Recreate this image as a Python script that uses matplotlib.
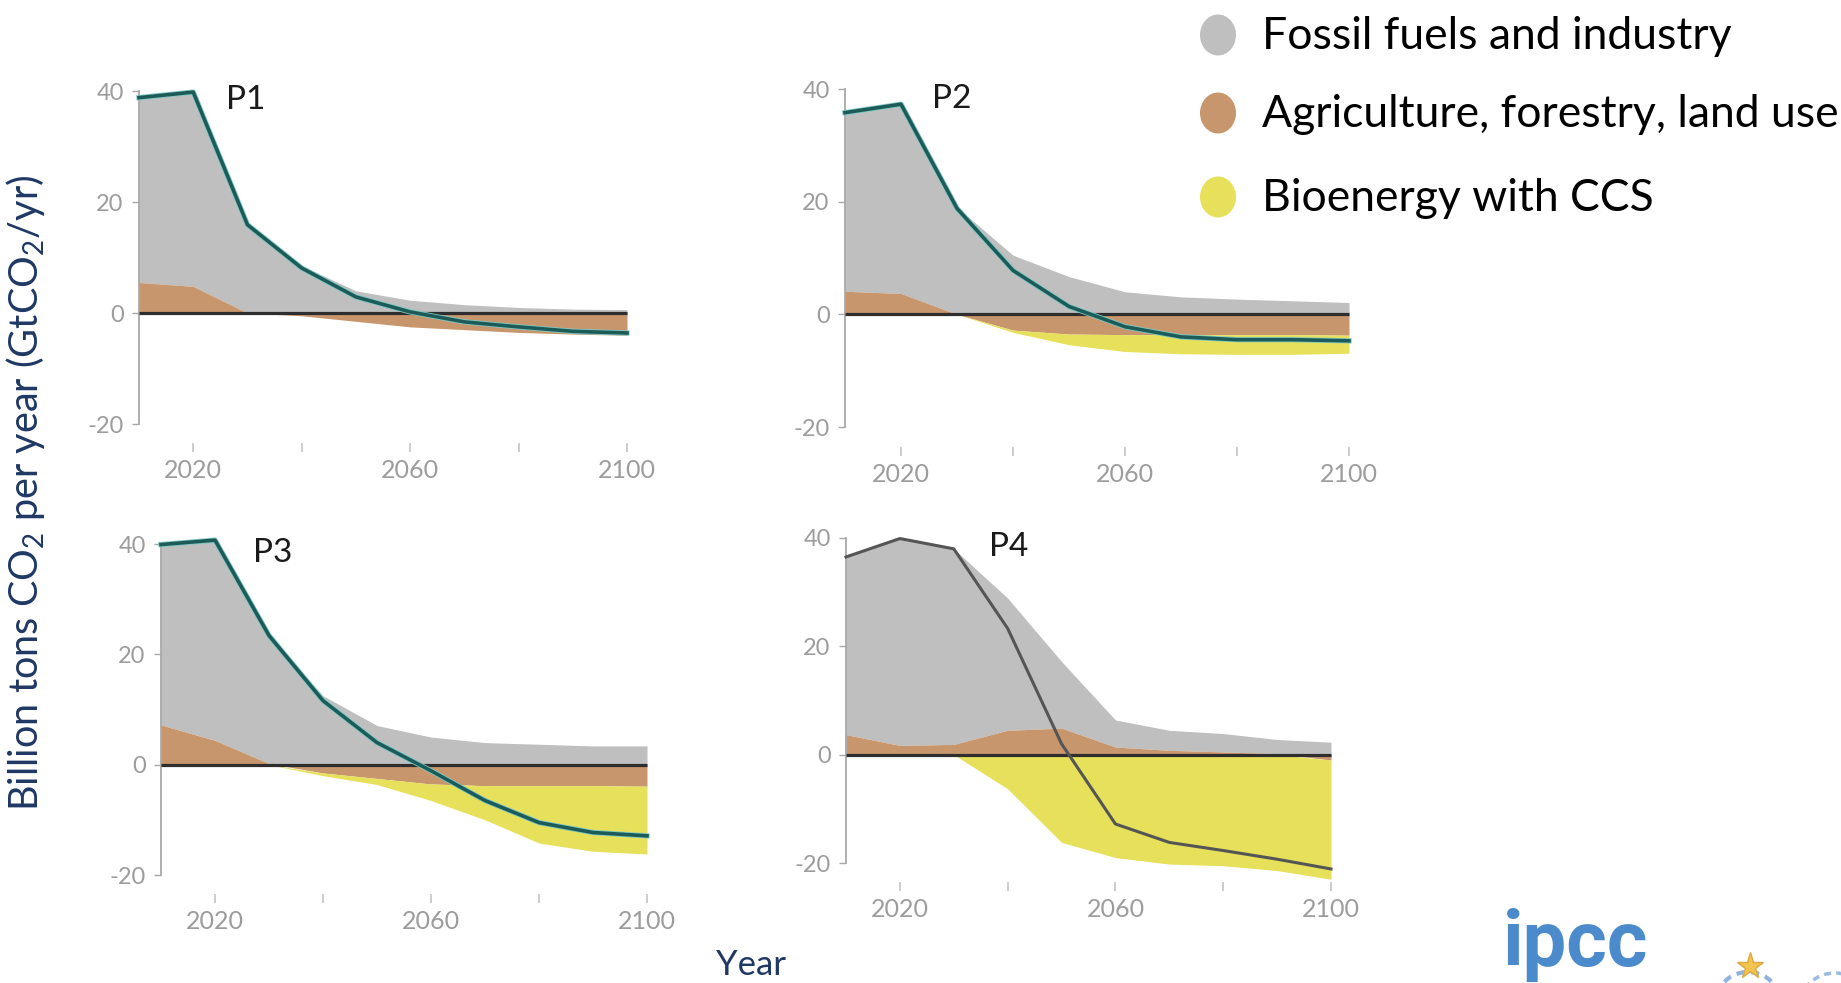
import numpy as np
import matplotlib
matplotlib.use("Agg")
import matplotlib.pyplot as plt
import matplotlib.patheffects as pe
from matplotlib.patches import Ellipse, Arc
from matplotlib.lines import Line2D

plt.rcParams['font.family'] = ['Lato', 'DejaVu Sans']
plt.rcParams['axes.unicode_minus'] = False

# emission components, GtCO2/yr
years = [2010, 2020, 2030, 2040, 2050, 2060, 2070, 2080, 2090, 2100]

p1_fossil = [33.3, 35.0, 16.0, 8.5, 4.0, 2.3, 1.5, 1.0, 0.7, 0.6]
p1_afolu = [5.5, 4.8, 0.0, -0.5, -1.5, -2.5, -3.0, -3.5, -3.8, -4.0]
p1_beccs = [0, 0, 0, 0, 0, 0, 0, 0, 0, 0]
p1_net = [38.8, 39.8, 15.9, 8.1, 2.9, 0.2, -1.6, -2.5, -3.3, -3.6]

p2_fossil = [31.7, 33.6, 19.0, 10.5, 6.7, 4.0, 3.1, 2.7, 2.4, 2.1]
p2_afolu = [4.1, 3.7, 0.0, -2.8, -3.5, -3.6, -3.6, -3.6, -3.6, -3.7]
p2_beccs = [0, 0, 0, -0.4, -1.9, -3.0, -3.4, -3.5, -3.5, -3.2]
p2_net = [35.8, 37.3, 18.8, 7.8, 1.4, -2.2, -4.0, -4.5, -4.5, -4.7]

p3_fossil = [32.8, 36.3, 23.2, 12.5, 7.1, 5.0, 4.0, 3.7, 3.4, 3.4]
p3_afolu = [7.2, 4.4, 0.2, -1.5, -2.5, -3.5, -3.8, -3.8, -3.8, -3.9]
p3_beccs = [0, 0, 0, -0.5, -1.1, -3.0, -6.2, -10.4, -11.9, -12.3]
p3_net = [39.9, 40.7, 23.4, 11.6, 4.0, -1.1, -6.5, -10.5, -12.3, -12.9]

p4_fossil = [32.8, 38.2, 36.1, 24.4, 12.3, 5.0, 3.7, 3.4, 2.6, 2.3]
p4_afolu = [3.7, 1.7, 1.9, 4.5, 4.9, 1.4, 0.8, 0.5, 0.2, -1.0]
p4_beccs = [0, 0, 0, -6.3, -16.2, -19.0, -20.2, -20.5, -21.4, -22.0]
p4_net = [36.5, 39.9, 38.0, 23.3, 2.0, -12.8, -16.2, -17.7, -19.3, -21.1]

panel_names = ['P1', 'P2', 'P3', 'P4']
legend_labels = ['Fossil fuels and industry', 'Agriculture, forestry, land use', 'Bioenergy with CCS']
xtick_years = [2020, 2040, 2060, 2080, 2100]
xtick_labels = ['2020', '', '2060', '', '2100']
ytick_values = [-20, 0, 20, 40]

GREY = '#bfbfc0'
BROWN = '#c8966c'
YELLOW = '#e7e05a'
TEAL = '#1d5b58'
NAVY = '#1f3864'
TICK = '#9c9c9c'
LOGO = '#4c8bcb'

W, H = 1841, 983
fig = plt.figure(figsize=(W / 100, H / 100), dpi=100)

# pixel spots of 2010 / 2100 and +40 / -20 in each panel
boxes = {
    'P1': (139, 627, 91, 424),
    'P2': (845, 1349, 89, 427),
    'P3': (161, 647, 544, 875),
    'P4': (846, 1331, 538, 863),
}
YMIN, YMAX = -23.5, 42
XPAD = 1.0

data = {
    'P1': (p1_fossil, p1_afolu, p1_beccs, p1_net, TEAL),
    'P2': (p2_fossil, p2_afolu, p2_beccs, p2_net, TEAL),
    'P3': (p3_fossil, p3_afolu, p3_beccs, p3_net, TEAL),
    'P4': (p4_fossil, p4_afolu, p4_beccs, p4_net, '#555555'),
}
label_x = {'P1': 2026, 'P2': 2025.5, 'P3': 2027, 'P4': 2036.5}

for name in panel_names:
    x0, x1, ytop, ybot = boxes[name]
    ppy = (x1 - x0) / 90
    ppu = (ybot - ytop) / 60
    left = x0 - XPAD * ppy
    right = x1 + XPAD * ppy
    top = ytop - (YMAX - 40) * ppu
    bottom = ybot + (-20 - YMIN) * ppu
    ax = fig.add_axes([left / W, 1 - bottom / H, (right - left) / W, (bottom - top) / H])

    fossil, afolu, beccs, net, lc = data[name]
    fossil = np.array(fossil)
    afolu = np.array(afolu)
    beccs = np.array(beccs)
    a_pos = np.clip(afolu, 0, None)
    a_neg = np.clip(afolu, None, 0)

    ax.fill_between(years, a_pos, a_pos + fossil, color=GREY, lw=0)
    ax.fill_between(years, 0, afolu, color=BROWN, lw=0)
    ax.fill_between(years, a_neg, a_neg + beccs, color=YELLOW, lw=0)
    ax.hlines(0, years[0], years[-1], color='#2e2e2e', lw=2.3, zorder=3)
    if name == 'P4':
        ax.plot(years, net, color=lc, lw=2.2, zorder=4)
    else:
        ax.plot(years, net, color=lc, lw=2.6, zorder=4,
                path_effects=[pe.Stroke(linewidth=3.8, foreground='#7fc9c6'), pe.Normal()])

    ax.set_xlim(years[0] - XPAD, years[-1] + XPAD)
    ax.set_ylim(YMIN, YMAX)
    for s in ['top', 'right', 'bottom']:
        ax.spines[s].set_visible(False)
    ax.spines['left'].set_position(('data', years[0]))
    ax.spines['left'].set_bounds(-20, 40)
    ax.spines['left'].set_color('#a8a8a8')
    ax.spines['left'].set_linewidth(1.3)

    ax.set_yticks(ytick_values)
    ax.set_yticklabels([str(v) for v in ytick_values])
    ax.tick_params(axis='y', length=5, width=1, color='#a8a8a8', labelcolor=TICK,
                   labelsize=17, pad=6)
    ax.set_xticks(xtick_years)
    ax.set_xticklabels(xtick_labels)
    ax.tick_params(axis='x', length=6.5, width=1.2, color='#c4c4c4', labelcolor=TICK,
                   labelsize=18, pad=5)
    ax.set_facecolor('none')

    ax.text(label_x[name], 38.3, name, ha='left', va='center', fontsize=24, color='#1a1a1a')

# legend: coloured discs with labels at the top right
leg_rows = [35, 113, 197]
for lab, col, yc in zip(legend_labels, [GREY, BROWN, YELLOW], leg_rows):
    fig.add_artist(Ellipse((1218 / W, 1 - yc / H), 36 / W, 41 / H, transform=fig.transFigure,
                           facecolor=col, edgecolor='none'))
    fig.text(1262 / W, 1 - (yc + 14) / H, lab, ha='left', va='baseline', fontsize=32,
             color='black')

fig.text(26 / W, 1 - 493 / H, 'Billion tons CO$_\\mathregular{2}$ per year (GtCO$_\\mathregular{2}$/yr)',
         rotation=90, ha='center', va='center', fontsize=28.5, color=NAVY)
fig.text(751 / W, 1 - 965 / H, 'Year', ha='center', va='center', fontsize=25, color=NAVY)

# logo lettering and emblems at the lower right
fig.text(1503 / W, 0.5 / H, 'ipcc', ha='left', va='bottom', fontsize=56,
         fontweight='bold', color=LOGO, family='Roboto')
fig.add_artist(Arc((1748 / W, 1 - 1000 / H), 62 / W, 56 / H, theta1=20, theta2=160,
                   transform=fig.transFigure, color='#8fb3dc', lw=3, ls=(0, (2, 1.5))))
fig.add_artist(Line2D([1750 / W], [1 - 966 / H], marker='*', ms=20, color='#f1c550',
                      markeredgecolor='#e0a83a', transform=fig.transFigure))
fig.add_artist(Ellipse((1835 / W, 1 - 1005 / H), 70 / W, 64 / H, transform=fig.transFigure,
                       facecolor='none', edgecolor='#9bbbe0', lw=2.5, ls=(0, (2, 1.5))))

fig.savefig('out.png', dpi=100)
